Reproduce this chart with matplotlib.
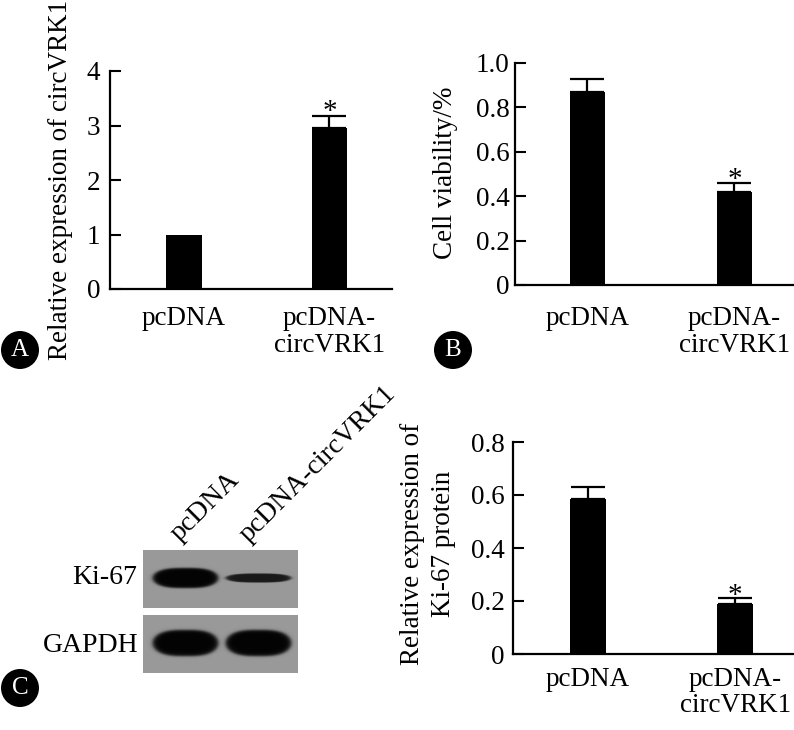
import numpy as np
import matplotlib
matplotlib.use("Agg")
import matplotlib.pyplot as plt
from matplotlib.patches import Circle
from matplotlib.transforms import IdentityTransform

plt.rcParams['font.family'] = ['Liberation Serif', 'DejaVu Serif']

W, H = 794, 730
FS = 19.5

# Data
groups = ['pcDNA', 'pcDNA-\ncircVRK1']

circ_expr = [1.0, 2.95]
circ_err = [0.0, 0.22]
circ_ticks = [0, 1, 2, 3, 4]
circ_ticklabels = ['0', '1', '2', '3', '4']

viability = [0.87, 0.42]
viability_err = [0.06, 0.04]
via_ticks = [0, 0.2, 0.4, 0.6, 0.8, 1.0]
via_ticklabels = ['0', '0.2', '0.4', '0.6', '0.8', '1.0']

ki67 = [0.585, 0.19]
ki67_err = [0.045, 0.02]
ki_ticks = [0, 0.2, 0.4, 0.6, 0.8]
ki_ticklabels = ['0', '0.2', '0.4', '0.6', '0.8']

# Western blot bands (relative darkness per lane)
blot_rows = ['Ki-67', 'GAPDH']
blot_lanes = ['pcDNA', 'pcDNA-circVRK1']
band_strength = [[1.0, 0.85], [1.0, 1.0]]
band_height = [[20, 9], [26, 26]]


def px_axes(fig, x0, y0, x1, y1):
    # pixel box (from top-left) -> figure axes
    return fig.add_axes([x0 / W, 1 - y1 / H, (x1 - x0) / W, (y1 - y0) / H])


def bar_panel(ax, vals, errs, ticks, ticklabels, xlim, width, xpad, ypad, star_y):
    x = np.arange(len(vals))
    ax.bar(x, vals, width=width, color='black', zorder=2)
    has_err = [i for i in range(len(errs)) if errs[i] > 0]
    ax.errorbar(x[has_err], np.array(vals)[has_err],
                yerr=[np.zeros(len(has_err)), np.array(errs)[has_err]], fmt='none',
                ecolor='black', elinewidth=1.6, capsize=12, capthick=1.6, zorder=3)
    ax.set_xlim(*xlim)
    ax.set_ylim(ticks[0], ticks[-1])
    ax.set_xticks(x)
    ax.set_xticklabels(groups, fontsize=FS, linespacing=1.1)
    ax.set_yticks(ticks)
    ax.set_yticklabels(ticklabels, fontsize=FS)
    ax.tick_params(axis='x', length=0, pad=xpad)
    ax.tick_params(axis='y', direction='in', length=8, width=1.5, pad=ypad)
    for s in ['top', 'right']:
        ax.spines[s].set_visible(False)
    for s in ['left', 'bottom']:
        ax.spines[s].set_linewidth(1.6)
    top = vals[1] + errs[1]
    ax.annotate('*', (x[1], top), xytext=(0, star_y), textcoords='offset points',
                ha='center', va='baseline', fontsize=21)


def badge(fig, cx, cy, r, letter):
    fig.add_artist(Circle((cx, H - cy), r, transform=IdentityTransform(),
                          facecolor='black', edgecolor='none'))
    fig.text(cx / W, 1 - cy / H, letter, color='white', fontsize=18,
             ha='center', va='center')


fig = plt.figure(figsize=(W / 100, H / 100), dpi=100)

# Panel A
axA = px_axes(fig, 110, 71, 392, 289)
bar_panel(axA, circ_expr, circ_err, circ_ticks, circ_ticklabels,
          (-0.51, 1.43), 0.247, 12, 7, -2)
fig.text(61 / W, 1 - 180 / H, 'Relative expression of circVRK1', rotation=90,
         fontsize=FS, ha='center', va='center')

# Panel B
axB = px_axes(fig, 515, 63, 794, 285)
bar_panel(axB, viability, viability_err, via_ticks, via_ticklabels,
          (-0.493, 1.405), 0.238, 15, 4, -3)
fig.text(445 / W, 1 - 173 / H, 'Cell viability/%', rotation=90,
         fontsize=FS, ha='center', va='center')

# Panel C bar chart
axC = px_axes(fig, 513, 442, 794, 654)
bar_panel(axC, ki67, ki67_err, ki_ticks, ki_ticklabels,
          (-0.51, 1.40), 0.245, 9, 6, -3)
fig.text(428 / W, 1 - 544 / H, 'Relative expression of\nKi-67 protein', rotation=90,
         fontsize=FS, ha='center', va='center', linespacing=1.3)

# Panel C blot
bx0, by0, bx1, by1 = 143, 550, 298, 673
axW = px_axes(fig, bx0, by0, bx1, by1)
xx, yy = np.meshgrid(np.arange(bx0, bx1) + 0.5, np.arange(by0, by1) + 0.5)
img = np.ones_like(xx)
row_box = [(550, 608), (615, 673)]
lane_x = [(153, 218), (226, 291)]
for i, (r0, r1) in enumerate(row_box):
    inside = (yy >= r0) & (yy < r1)
    img[inside] = 0.6
    cy = (r0 + r1) / 2 - 1
    for j, (l0, l1) in enumerate(lane_x):
        cx = (l0 + l1) / 2
        a = (l1 - l0) / 2
        b = band_height[i][j] / 2
        d = (np.abs(xx - cx) / a) ** 3 + (np.abs(yy - cy) / b) ** 2
        dens = band_strength[i][j] / (1 + np.exp((d - 1) / 0.12))
        img[inside] = img[inside] * (1 - dens[inside] * 0.98)
axW.imshow(img, cmap='gray', vmin=0, vmax=1, aspect='auto', interpolation='bilinear',
           extent=(bx0, bx1, by1, by0))
axW.axis('off')

fig.text(137 / W, 1 - 578 / H, blot_rows[0], fontsize=20, ha='right', va='center')
fig.text(138 / W, 1 - 645 / H, blot_rows[1], fontsize=20, ha='right', va='center')
fig.text(184 / W, 1 - 546 / H, blot_lanes[0], fontsize=20, rotation=45,
         rotation_mode='anchor', ha='left', va='bottom')
fig.text(253 / W, 1 - 547 / H, blot_lanes[1], fontsize=20, rotation=45,
         rotation_mode='anchor', ha='left', va='bottom')

badge(fig, 20, 350, 19, 'A')
badge(fig, 453, 350, 19, 'B')
badge(fig, 20, 688, 19, 'C')

fig.savefig('out.png', dpi=100, facecolor='white')
